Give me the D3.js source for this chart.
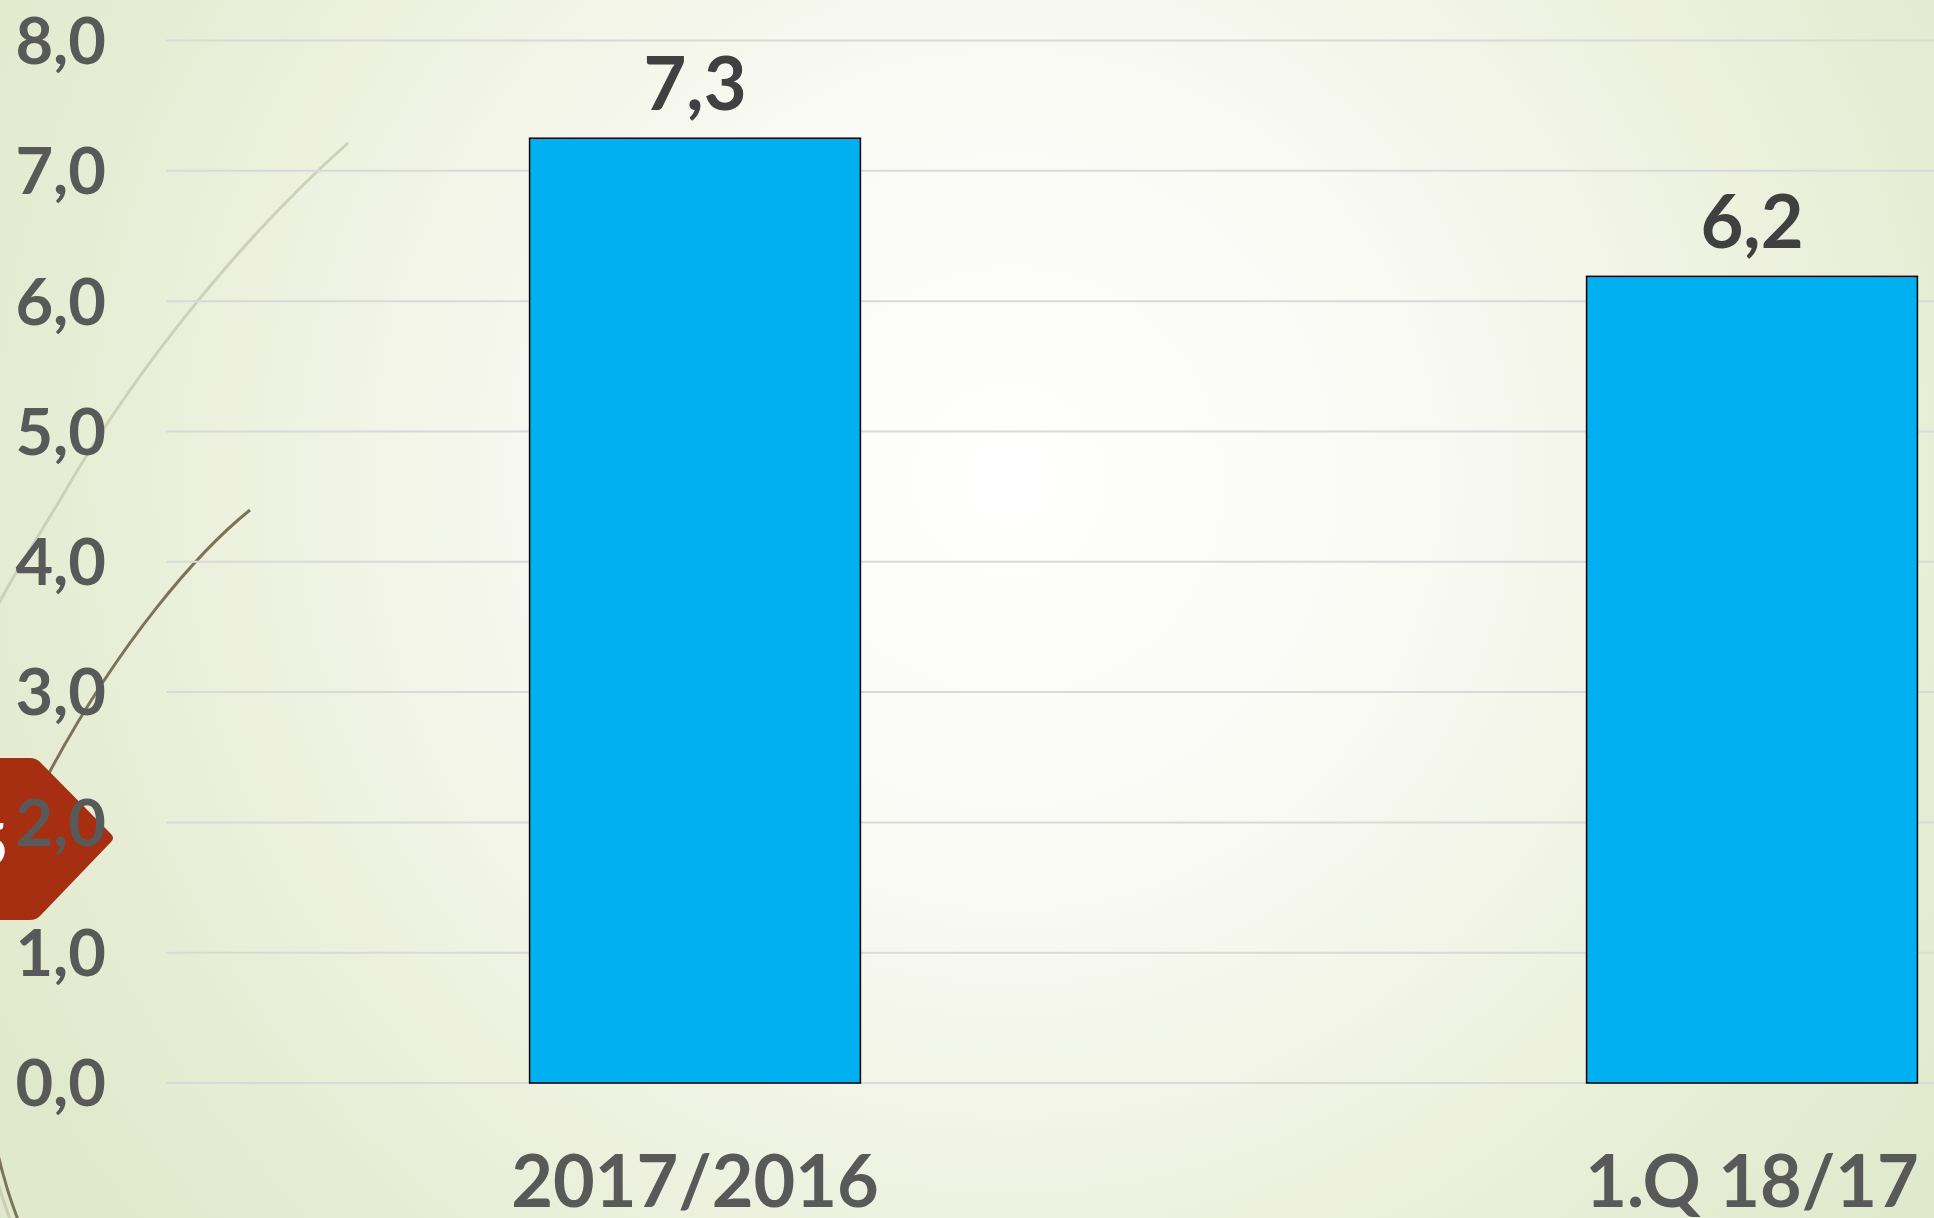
<!DOCTYPE html>
<html>
<head>
    <title>Bar chart</title>
    <script src="https://d3js.org/d3.v7.min.js"></script>
    <style>
        html, body { margin: 0; padding: 0; overflow: hidden; }
        svg { display: block; }
        text { font-family: Lato, "DejaVu Sans", sans-serif; font-weight: 700; }
    </style>
</head>
<body>
    <div id="chart"></div>

    <script>
        // chart data
        const categories = ["2017/2016", "1.Q 18/17"];
        const values = [7.25, 6.19];
        const yTicks = [0, 1, 2, 3, 4, 5, 6, 7, 8];

        const width = 1934;
        const height = 1218;

        const svg = d3.select("#chart").append("svg")
            .attr("width", width)
            .attr("height", height);

        // slide background
        const defs = svg.append("defs");
        const grad = defs.append("radialGradient")
            .attr("id", "bg")
            .attr("gradientUnits", "userSpaceOnUse")
            .attr("cx", 1010).attr("cy", 480).attr("r", 1150);
        grad.append("stop").attr("offset", "0").attr("stop-color", "#ffffff");
        grad.append("stop").attr("offset", "0.35").attr("stop-color", "#f9faf4");
        grad.append("stop").attr("offset", "0.75").attr("stop-color", "#eaefd9");
        grad.append("stop").attr("offset", "1").attr("stop-color", "#e1e9cc");

        svg.append("rect")
            .attr("width", width)
            .attr("height", height)
            .attr("fill", "url(#bg)");

        // decoration curves on the left
        svg.append("path")
            .attr("d", "M348,143 C250,230 140,360 60,500 C30,550 10,580 -10,620")
            .attr("fill", "none")
            .attr("stroke", "#ccd1b8")
            .attr("stroke-width", 3);

        svg.append("path")
            .attr("d", "M250,510 C200,550 120,640 48,775 C-30,930 -30,1100 20,1225")
            .attr("fill", "none")
            .attr("stroke", "#7b7458")
            .attr("stroke-width", 3);

        svg.append("path")
            .attr("d", "M-10,1150 C-5,1180 5,1205 12,1225")
            .attr("fill", "none")
            .attr("stroke", "#c9ceb4")
            .attr("stroke-width", 3);

        // red slide-number tag
        svg.append("path")
            .attr("d", "M-10,758 L30,758 Q36,758 40,762 L111,834 Q115,838 111,842 L40,916 Q36,920 30,920 L-10,920 Z")
            .attr("fill", "#a52f10");
        svg.append("text")
            .attr("x", 8)
            .attr("y", 866)
            .attr("text-anchor", "end")
            .attr("fill", "#ffffff")
            .style("font-size", "60px")
            .text("5");

        const x = d3.scaleBand()
            .domain(categories)
            .range([166.5, 2280.5])
            .paddingInner(0.687)
            .paddingOuter(0.3435);

        const y = d3.scaleLinear()
            .domain([0, 8])
            .range([1083, 40.5]);

        // gridlines
        svg.append("g")
            .selectAll("line")
            .data(yTicks)
            .join("line")
            .attr("x1", 166)
            .attr("x2", width)
            .attr("y1", d => y(d))
            .attr("y2", d => y(d))
            .attr("stroke", "#d9d9d9")
            .attr("stroke-width", 2);

        // y axis labels
        const fmt = d => d3.format(".1f")(d).replace(".", ",");

        svg.append("g")
            .selectAll("text")
            .data(yTicks)
            .join("text")
            .attr("x", 106)
            .attr("y", d => y(d))
            .attr("dy", "0.36em")
            .attr("text-anchor", "end")
            .attr("fill", "#595959")
            .style("font-size", "65px")
            .text(fmt);

        // bars
        svg.append("g")
            .selectAll("rect")
            .data(values)
            .join("rect")
            .attr("x", (d, i) => x(categories[i]))
            .attr("y", d => y(d))
            .attr("width", x.bandwidth())
            .attr("height", d => y(0) - y(d))
            .attr("fill", "#00b0f0")
            .attr("stroke", "#000000")
            .attr("stroke-width", 1.5);

        // value labels
        svg.append("g")
            .selectAll("text")
            .data(values)
            .join("text")
            .attr("x", (d, i) => x(categories[i]) + x.bandwidth() / 2)
            .attr("y", d => y(d) - 28)
            .attr("text-anchor", "middle")
            .attr("fill", "#404040")
            .style("font-size", "74px")
            .text(fmt);

        // category labels
        svg.append("g")
            .selectAll("text")
            .data(categories)
            .join("text")
            .attr("x", d => x(d) + x.bandwidth() / 2)
            .attr("y", 1207)
            .attr("text-anchor", "middle")
            .attr("fill", "#595959")
            .style("font-size", "72px")
            .text(d => d);
    </script>
</body>
</html>
